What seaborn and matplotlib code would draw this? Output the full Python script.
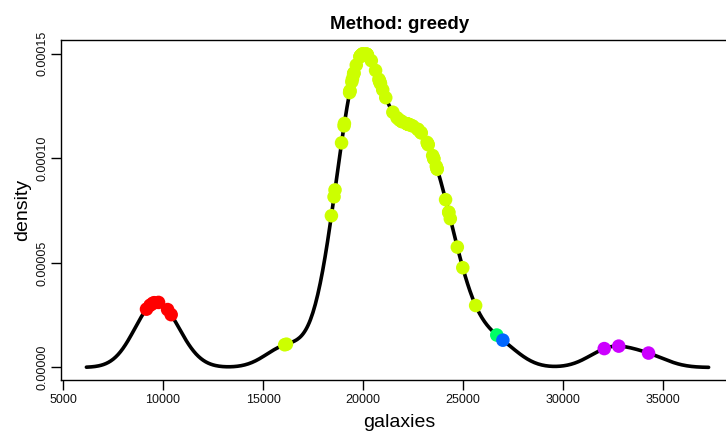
import numpy as np
import pandas as pd
import matplotlib
matplotlib.use("Agg")
import matplotlib.pyplot as plt
from matplotlib.ticker import FormatStrFormatter
import seaborn as sns

# galaxy velocities (km/s)
galaxies = [9172, 9350, 9483, 9558, 9775, 10227, 10406, 16084, 16170, 18419,
            18552, 18600, 18927, 19052, 19070, 19330, 19343, 19349, 19440, 19473,
            19529, 19541, 19547, 19663, 19846, 19856, 19863, 19914, 19918, 19973,
            19989, 20166, 20175, 20179, 20196, 20215, 20221, 20415, 20629, 20795,
            20821, 20846, 20875, 20986, 21137, 21492, 21701, 21814, 21921, 21960,
            22185, 22209, 22242, 22249, 22314, 22374, 22495, 22746, 22747, 22888,
            22914, 23206, 23241, 23263, 23484, 23538, 23542, 23666, 23706, 23711,
            24129, 24285, 24289, 24366, 24717, 24990, 25633, 26690, 26995, 32065,
            32789, 34279]
# cluster assignment per galaxy (method: greedy)
cluster = [1, 1, 1, 1, 1, 1, 1, 2, 2, 2,
           2, 2, 2, 2, 2, 2, 2, 2, 2, 2,
           2, 2, 2, 2, 2, 2, 2, 2, 2, 2,
           2, 2, 2, 2, 2, 2, 2, 2, 2, 2,
           2, 2, 2, 2, 2, 2, 2, 2, 2, 2,
           2, 2, 2, 2, 2, 2, 2, 2, 2, 2,
           2, 2, 2, 2, 2, 2, 2, 2, 2, 2,
           2, 2, 2, 2, 2, 2, 2, 3, 4, 5,
           5, 5]
cluster_colors = {1: "#FF0000", 2: "#CCFF00", 3: "#00FF66", 4: "#0066FF", 5: "#CC00FF"}
title = "Method: greedy"
xticks = [5000, 10000, 15000, 20000, 25000, 30000, 35000]
yticks = [0.0, 0.00005, 0.00010, 0.00015]

sns.set_theme(style="white")
plt.rcParams["font.family"] = ["Liberation Sans", "DejaVu Sans"]
plt.rcParams["text.color"] = "black"
plt.rcParams["axes.labelcolor"] = "black"

df = pd.DataFrame({"galaxies": galaxies, "cluster": cluster})

# R's default bandwidth (bw.nrd0)
x = np.asarray(galaxies, dtype=float)
sd = x.std(ddof=1)
q75, q25 = np.percentile(x, [75, 25])
bw = 0.9 * min(sd, (q75 - q25) / 1.34) * len(x) ** -0.2

fig = plt.figure(figsize=(7.26, 4.32), dpi=100)
ax = fig.add_axes([61 / 726, 52 / 432, 677 / 726, 340 / 432])

sns.kdeplot(data=df, x="galaxies", bw_method=bw / sd, cut=3, gridsize=512,
            color="black", linewidth=2.6, ax=ax)
line = ax.lines[0]
lx, ly = line.get_xdata(), line.get_ydata()
df["density"] = np.interp(df["galaxies"], lx, ly)

sns.scatterplot(data=df, x="galaxies", y="density", hue="cluster",
                palette=cluster_colors, s=95, edgecolor="none", legend=False,
                zorder=3, ax=ax)

ax.set_xlim(4896, 38754)
ax.set_ylim(-6.0e-6, 1.566e-4)
ax.set_xticks(xticks)
ax.set_yticks(yticks)
ax.yaxis.set_major_formatter(FormatStrFormatter("%.5f"))
ax.tick_params(axis="both", which="major", direction="out", length=7, width=1,
               color="black", labelsize=9, labelcolor="#111111",
               bottom=True, left=True)
ax.tick_params(axis="x", pad=3)
ax.tick_params(axis="y", pad=2)
for lab in ax.get_yticklabels():
    lab.set_rotation(90)
    lab.set_va("center")
for sp in ax.spines.values():
    sp.set_color("black")
    sp.set_linewidth(1)

ax.set_xlabel("galaxies", fontsize=14, labelpad=6)
ax.set_ylabel("density", fontsize=14, labelpad=4)
ax.set_title(title, fontsize=13.5, fontweight="bold", pad=8, color="black")

fig.savefig("out.png", dpi=100)
